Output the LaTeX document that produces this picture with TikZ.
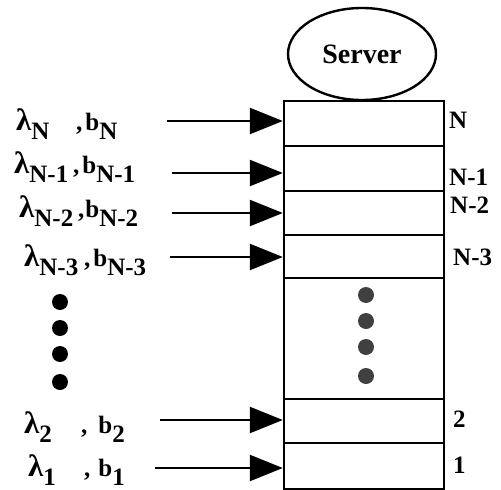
\documentclass[tikz,border=0pt]{standalone}
\usepackage{fontspec}
\setmainfont{Liberation Serif}
\usetikzlibrary{shapes.geometric, arrows.meta}
\newcommand{\lowr}[1]{\raisebox{-9pt}{#1}}
\newcommand{\lam}{{\fontsize{31}{31}\selectfont λ}}

\begin{document}
\begin{tikzpicture}[x=1pt, y=-1pt, line width=2.4pt,
    font=\fontsize{25}{30}\selectfont\bfseries,
    slot/.style={draw, minimum width=160pt, inner sep=0pt, anchor=north},
    feed/.style={-{Triangle[length=33pt, width=26pt]}},
    lab/.style={anchor=base west, inner sep=0pt},
    dot/.style={circle, fill, inner sep=0pt, minimum size=16pt}]
\useasboundingbox (0,0) rectangle (501,490);
% queue slots, top to bottom
\node[slot, minimum height=45pt ] (rN)   at (364,100) {};
\node[slot, minimum height=45pt ] (rN1)  at (364,145) {};
\node[slot, minimum height=44pt ] (rN2)  at (364,190) {};
\node[slot, minimum height=43pt ] (rN3)  at (364,234) {};
\node[slot, minimum height=121pt] (rmid) at (364,277) {};
\node[slot, minimum height=44pt ] (r2)   at (364,398) {};
\node[slot, minimum height=46pt ] (r1)   at (364,442) {};
\node[ellipse, draw, minimum width=148pt, minimum height=92pt, inner sep=0pt,
      font=\fontsize{28}{30}\selectfont\bfseries] (srv) at (362,54) {\raisebox{-4pt}{Server}};
% slot numbers
\node[lab] (nN)  at (448,128) {N};
\node[lab] (nN1) at (448,185) {N-1};
\node[lab] (nN2) at (449,213) {N-2};
\node[lab] (nN3) at (452,265) {N-3};
\node[lab] (n2)  at (452,427) {2};
\node[lab] (n1)  at (452,473) {1};
% arrival streams
\node[lab] (lN)  at (15,130) {\lam\lowr{N}};   \node[lab] (bN)  at (75,130) {,\hspace{3pt}b\lowr{N}};
\node[lab] (lN1) at (13,173) {\lam\lowr{N-1}}; \node[lab] (bN1) at (72,173) {,\hspace{3pt}b\lowr{N-1}};
\node[lab] (lN2) at (18,217) {\lam\lowr{N-2}}; \node[lab] (bN2) at (77,217) {,\hspace{1pt}b\lowr{N-2}};
\node[lab] (lN3) at (23,266) {\lam\lowr{N-3}}; \node[lab] (bN3) at (83,266) {,\hspace{3pt}b\lowr{N-3}};
\node[lab] (l2)  at (23,433) {\lam\lowr{2}};   \node[lab] (b2)  at (80,433) {,\hspace{11pt}b\lowr{2}};
\node[lab] (l1)  at (27,476) {\lam\lowr{1}};   \node[lab] (b1)  at (83,476) {,\hspace{8pt}b\lowr{1}};
\coordinate (aN)  at (167,121);
\coordinate (aN1) at (172,173);
\coordinate (aN2) at (172,213);
\coordinate (aN3) at (170,257);
\coordinate (a2)  at (160,420);
\coordinate (a1)  at (155,468);
\draw[feed] (aN)  -- (aN  -| rN.west);
\draw[feed] (aN1) -- (aN1 -| rN1.west);
\draw[feed] (aN2) -- (aN2 -| rN2.west);
\draw[feed] (aN3) -- (aN3 -| rN3.west);
\draw[feed] (a2)  -- (a2  -| r2.west);
\draw[feed] (a1)  -- (a1  -| r1.west);
% ellipsis dots
\node[dot] (d1) at (60,302) {};
\node[dot] (d2) at (60,328) {};
\node[dot] (d3) at (60,354) {};
\node[dot] (d4) at (60,382) {};
\node[dot, black!75] (m1) at (366,295) {};
\node[dot, black!75] (m2) at (366,321) {};
\node[dot, black!75] (m3) at (366,347) {};
\node[dot, black!75] (m4) at (366,376) {};
\end{tikzpicture}
\end{document}
